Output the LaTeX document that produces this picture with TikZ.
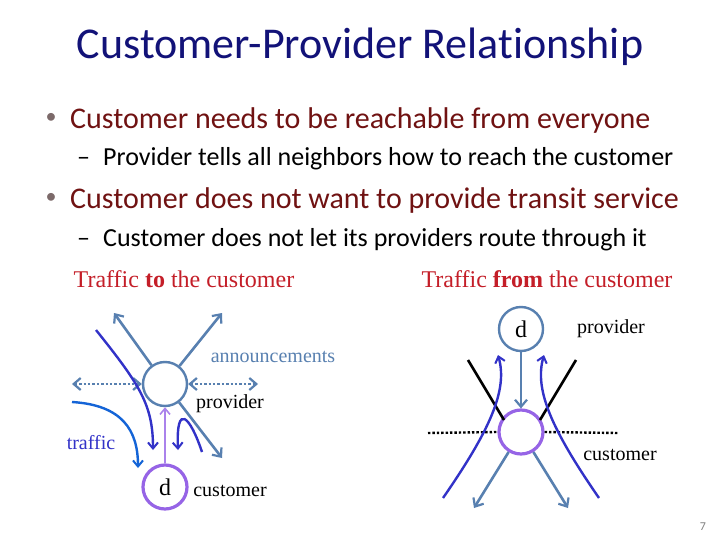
\documentclass[tikz,border=0pt]{standalone}
\usepackage{fontspec}
\setmainfont{Carlito}[Ligatures=NoCommon]
\newfontfamily\tnr{Liberation Serif}
\usetikzlibrary{arrows.meta}
\definecolor{titlecol}{RGB}{18,18,120}
\definecolor{bulcol}{RGB}{112,18,18}
\definecolor{headcol}{RGB}{196,30,40}
\definecolor{steel}{RGB}{88,128,176}
\definecolor{purp}{RGB}{150,100,230}
\definecolor{lpurp}{RGB}{170,130,235}
\definecolor{dblue}{RGB}{50,50,200}
\definecolor{bblue}{RGB}{20,100,215}
\tikzset{
  x=1pt,y=-1pt,
  tip/.style={-{Straight Barb[length=7pt,width=12pt,line width=2.2pt]}},
  ann/.style={steel,line width=2.6pt,tip},
  anndot/.style={steel,line width=2.4pt,dotted,{Straight Barb[length=7pt,width=12pt,line width=2.2pt]}-{Straight Barb[length=7pt,width=12pt,line width=2.2pt]}},
  prov/.style={circle,draw=steel,line width=2.4pt,minimum size=44pt,inner sep=0pt,font=\tnr\fontsize{24}{26}\selectfont},
  cust/.style={circle,draw=purp,line width=3.2pt,minimum size=44pt,inner sep=0pt,font=\tnr\fontsize{24}{26}\selectfont},
  traf/.style={line width=2.4pt,-{Straight Barb[length=6pt,width=10pt,line width=2pt]}},
  lbl/.style={font=\tnr\fontsize{20}{22}\selectfont,inner sep=0pt},
  head/.style={font=\tnr\fontsize{24}{26}\selectfont,text=headcol,inner sep=0pt},
  blk/.style={line width=2.6pt,black},
  dots/.style={line width=2.4pt,black,dotted},
  bul/.style={anchor=base west,font=\fontsize{30}{34}\selectfont,text=bulcol,inner sep=0pt},
  sub/.style={anchor=base west,font=\fontsize{26}{30}\selectfont,inner sep=0pt},
  bdot/.style={font=\fontsize{22}{24}\selectfont,text=gray!80!bulcol,inner sep=0pt},
}
\begin{document}
\begin{tikzpicture}
\useasboundingbox[fill=white] (0,0) rectangle (720,540);
% title and bullets
\node[font=\fontsize{44}{48}\selectfont,text=titlecol,inner sep=0pt] (title) at (360,47) {Customer-Provider Relationship};
\node[bul] (b1) at (70,129) {Customer needs to be reachable from everyone};
\node[bdot] (b1d) at (51,118) {•};
\node[sub] (s1) at (103,166) {Provider tells all neighbors how to reach the customer};
\node[sub] (s1d) at (77,166) {–};
\node[bul] (b2) at (70,209) {Customer does not want to provide transit service};
\node[bdot] (b2d) at (51,198) {•};
\node[sub] (s2) at (103,247) {Customer does not let its providers route through it};
\node[sub] (s2d) at (77,247) {–};
% headings
\node[head] (h1) at (184,279) {Traffic \textbf{to} the customer};
\node[head] (h2) at (547,279) {Traffic \textbf{from} the customer};
% ---------- left diagram ----------
\node[prov] (P) at (165,384) {};
\node[cust] (C) at (165,487) {d};
\coordinate (aul) at (114,313);
\coordinate (aur) at (222,313);
\coordinate (adr) at (222,458);
\coordinate (al) at (72,384);
\coordinate (ar) at (258,384);
\draw[ann] (P) -- (aul);
\draw[ann] (P) -- (aur);
\draw[ann] (P) -- (adr);
\draw[anndot] (al) -- (P.west);
\draw[anndot] (P.east) -- (ar);
\draw[lpurp,line width=1.8pt,-{Straight Barb[length=6pt,width=10pt,line width=1.6pt]}] (C) -- (P);
\coordinate (t1s) at (96,330);
\coordinate (t1e) at (153,450);
\draw[traf,dblue] (t1s) .. controls (140,385) and (153,405) .. (t1e);
\coordinate (t2s) at (202,452);
\coordinate (t2e) at (178,450);
\draw[traf,dblue] (t2s) .. controls (190,416) and (176,402) .. (t2e);
\coordinate (t3s) at (72,402);
\coordinate (t3e) at (138,468);
\draw[traf,bblue] (t3s) .. controls (122,405) and (138,430) .. (t3e);
\node[lbl,text=steel] (lann) at (273,357) {announcements};
\node[lbl] (lprov) at (230,404) {provider};
\node[lbl,text=dblue] (ltraf) at (91,443) {traffic};
\node[lbl] (lcust) at (230,491) {customer};
% ---------- right diagram ----------
\node[prov] (D) at (521,329) {d};
\node[cust] (CU) at (521,432) {};
\node[lbl] (rprov) at (611,329) {provider};
\node[lbl] (rcust) at (620,455) {customer};
\draw[ann] (D) -- (CU);
\coordinate (k1a) at (468,360);
\coordinate (k1b) at (504,420);
\coordinate (k2a) at (576,360);
\coordinate (k2b) at (540,420);
\draw[blk] (k1a) -- (k1b);
\draw[blk] (k2a) -- (k2b);
\coordinate (dl) at (428,433);
\coordinate (dr) at (618,433);
\draw[dots] (dl) -- (CU.west);
\draw[dots] (CU.east) -- (dr);
\coordinate (c1s) at (443,498);
\coordinate (c1e) at (498,355);
\coordinate (c2s) at (599,498);
\coordinate (c2e) at (544,355);
\draw[traf,dblue] (c1s) .. controls (490,430) and (508,390) .. (c1e);
\draw[traf,dblue] (c2s) .. controls (552,430) and (534,390) .. (c2e);
\coordinate (o1) at (474,508);
\coordinate (o2) at (568,508);
\draw[ann] (CU) -- (o1);
\draw[ann] (CU) -- (o2);
\node[font=\fontsize{12}{14}\selectfont,text=gray,inner sep=0pt] (pg) at (703,527) {7};
\end{tikzpicture}
\end{document}
